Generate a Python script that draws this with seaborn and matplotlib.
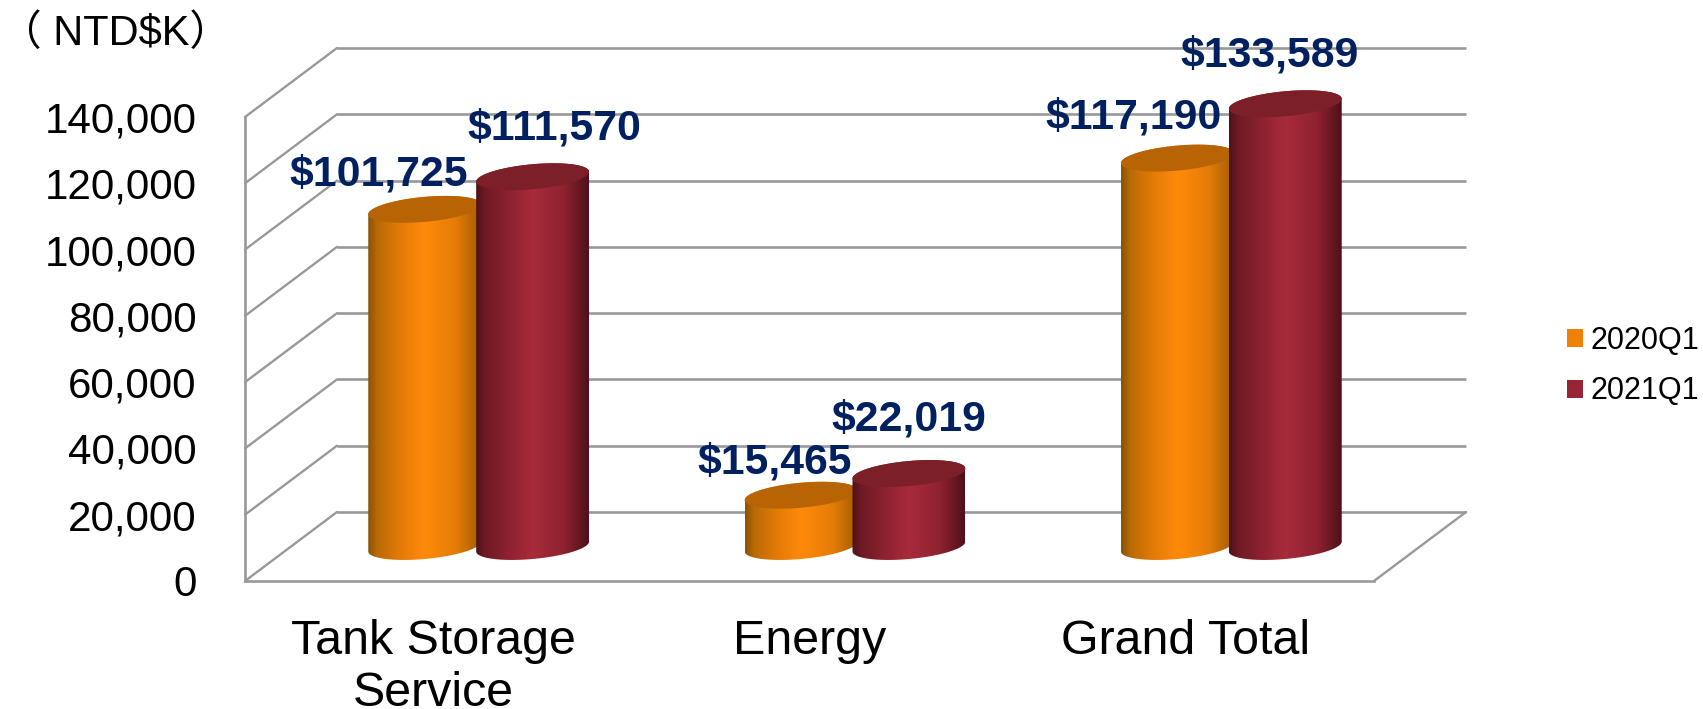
import numpy as np
import pandas as pd
import matplotlib
matplotlib.use("Agg")
import matplotlib.pyplot as plt
import seaborn as sns
from matplotlib.colors import LinearSegmentedColormap
from matplotlib.path import Path
from matplotlib.patches import PathPatch
from matplotlib.transforms import Affine2D, IdentityTransform

categories = ["Tank Storage\nService", "Energy", "Grand Total"]
series_names = ["2020Q1", "2021Q1"]
values_2020 = [101725, 15465, 117190]
values_2021 = [111570, 22019, 133589]
y_ticks = [0, 20000, 40000, 60000, 80000, 100000, 120000, 140000]

# label nudges in pixels from the top of each cylinder
label_nudges = [[(-46, 35), (-26, 33), (-44, 41)], [(22, 48), (0, 54), (-16, 48)]]

width_px, height_px = 1703, 709
grid_color = "#999999"
label_color = "#002060"
legend_colors = ["#EE8106", "#982536"]
cap_colors = ["#B86404", "#7C1F28"]
body_stops = [
    ["#8B5206", "#B96A05", "#E67C08", "#FF8A0A", "#E57C07", "#A05C04"],
    ["#4E1119", "#6E1A25", "#8E2230", "#A82B3A", "#8E2230", "#4E1119"],
]
stop_pos = [0.0, 0.08, 0.3, 0.5, 0.78, 1.0]

sns.set_theme(style="white")
plt.rcParams["font.family"] = ["Liberation Sans", "Noto Sans CJK TC"]
plt.rcParams["text.color"] = "black"

fig = plt.figure(figsize=(width_px / 100, height_px / 100), dpi=100)
ax = fig.add_axes([245 / width_px, (height_px - 581) / height_px, 1129 / width_px, 464 / height_px])

df = pd.DataFrame({
    "category": categories * 2,
    "series": [series_names[0]] * 3 + [series_names[1]] * 3,
    "value": values_2020 + values_2021,
})
sns.barplot(data=df, x="category", y="value", hue="series", palette=legend_colors,
            width=0.6, gap=0, saturation=1, errorbar=None, ax=ax, legend=False)

ax.set_xlim(-0.5, 2.5)
ax.set_ylim(0, 140000)
ax.set_xlabel("")
ax.set_ylabel("")
ax.set_yticks(y_ticks)
ax.set_yticklabels([f"{t:,}" for t in y_ticks])
ax.tick_params(axis="y", length=0, pad=35, labelsize=30.3, colors="black")
ax.tick_params(axis="x", length=0, pad=27, labelsize=34.8, colors="black")
ax.patch.set_alpha(0)
for side in ["top", "right"]:
    ax.spines[side].set_visible(False)
for side in ["left", "bottom"]:
    ax.spines[side].set_color(grid_color)
    ax.spines[side].set_linewidth(1.9)

# back wall and side wall
back = ax.transData + Affine2D().translate(92, 69)
mid = ax.transData + Affine2D().translate(43, 34.5)
ident = IdentityTransform()
ax.hlines(y_ticks, -0.5, 2.5, colors=grid_color, linewidth=1.9, transform=back, clip_on=False, zorder=1)
for t in y_ticks:
    p0 = ax.transData.transform((-0.5, t))
    p1 = back.transform((-0.5, t))
    ax.plot([p0[0], p1[0]], [p0[1], p1[1]], color=grid_color, lw=1.7, transform=ident, clip_on=False, zorder=1)
p0 = ax.transData.transform((2.5, 0))
p1 = back.transform((2.5, 0))
ax.plot([p0[0], p1[0]], [p0[1], p1[1]], color=grid_color, lw=1.7, transform=ident, clip_on=False, zorder=1)


def ellipse_pts(cx, cy, a, t):
    # ellipse tilted up to the right, y up in pixels
    return np.column_stack([cx + a * np.cos(t), cy + 12.5 * np.sin(t) + 0.088 * a * np.cos(t)])


overlap = 5 / 376.33
for s, container in enumerate(ax.containers):
    cmap = LinearSegmentedColormap.from_list(f"body{s}", list(zip(stop_pos, body_stops[s])))
    grad = np.linspace(0, 1, 256).reshape(1, -1)
    for b, bar in enumerate(container):
        bar.set_visible(False)
        x0 = bar.get_x() + (overlap if s == 0 else 0)
        left = mid.transform((x0, 0))
        right = mid.transform((x0 + bar.get_width(), bar.get_height()))
        a = (right[0] - left[0]) / 2
        cx = (right[0] + left[0]) / 2
        y_base, y_top = left[1], right[1]

        low = ellipse_pts(cx, y_base, a, np.linspace(np.pi, 2 * np.pi, 60))
        top = ellipse_pts(cx, y_top, a, np.linspace(0, np.pi, 60))
        outline = np.vstack([low, top, low[:1]])
        body = Path(outline, closed=True)
        im = ax.imshow(grad, cmap=cmap, aspect="auto", extent=(cx - a, cx + a, y_base - 20, y_top + 20),
                       transform=ident, zorder=3 + s, interpolation="bilinear")
        im.set_clip_box(fig.bbox)
        im.set_clip_path(body, ident)

        cap = ellipse_pts(cx, y_top, a, np.linspace(0, 2 * np.pi, 120))
        ax.add_patch(PathPatch(Path(cap, closed=True), facecolor=cap_colors[s], edgecolor="none",
                               transform=ident, clip_on=False, zorder=3 + s))

        ax.annotate(f"${bar.get_height():,.0f}", xy=(cx, y_top), xycoords=ident,
                    xytext=label_nudges[s][b], textcoords="offset pixels", ha="center", va="center",
                    fontsize=30.8, fontweight="bold", color=label_color, zorder=10, parse_math=False)

ax.set_xlim(-0.5, 2.5)
ax.set_ylim(0, 140000)

fig.text(0, 1 - 34 / height_px, "（ NTD$K）", fontsize=30, color="black",
         ha="left", va="center", parse_math=False)

handles = [plt.Rectangle((0, 0), 1, 1, facecolor=c, edgecolor="none") for c in legend_colors]
ax.legend(handles, series_names, loc="upper left", bbox_to_anchor=(1567 / width_px, 1 - 326 / height_px),
          bbox_transform=fig.transFigure, frameon=False, fontsize=22, handlelength=0.52, handleheight=0.52,
          handletextpad=0.26, labelspacing=0.67, borderpad=0, borderaxespad=0, labelcolor="black")

fig.savefig("out.png", dpi=100)
plt.close("all")
